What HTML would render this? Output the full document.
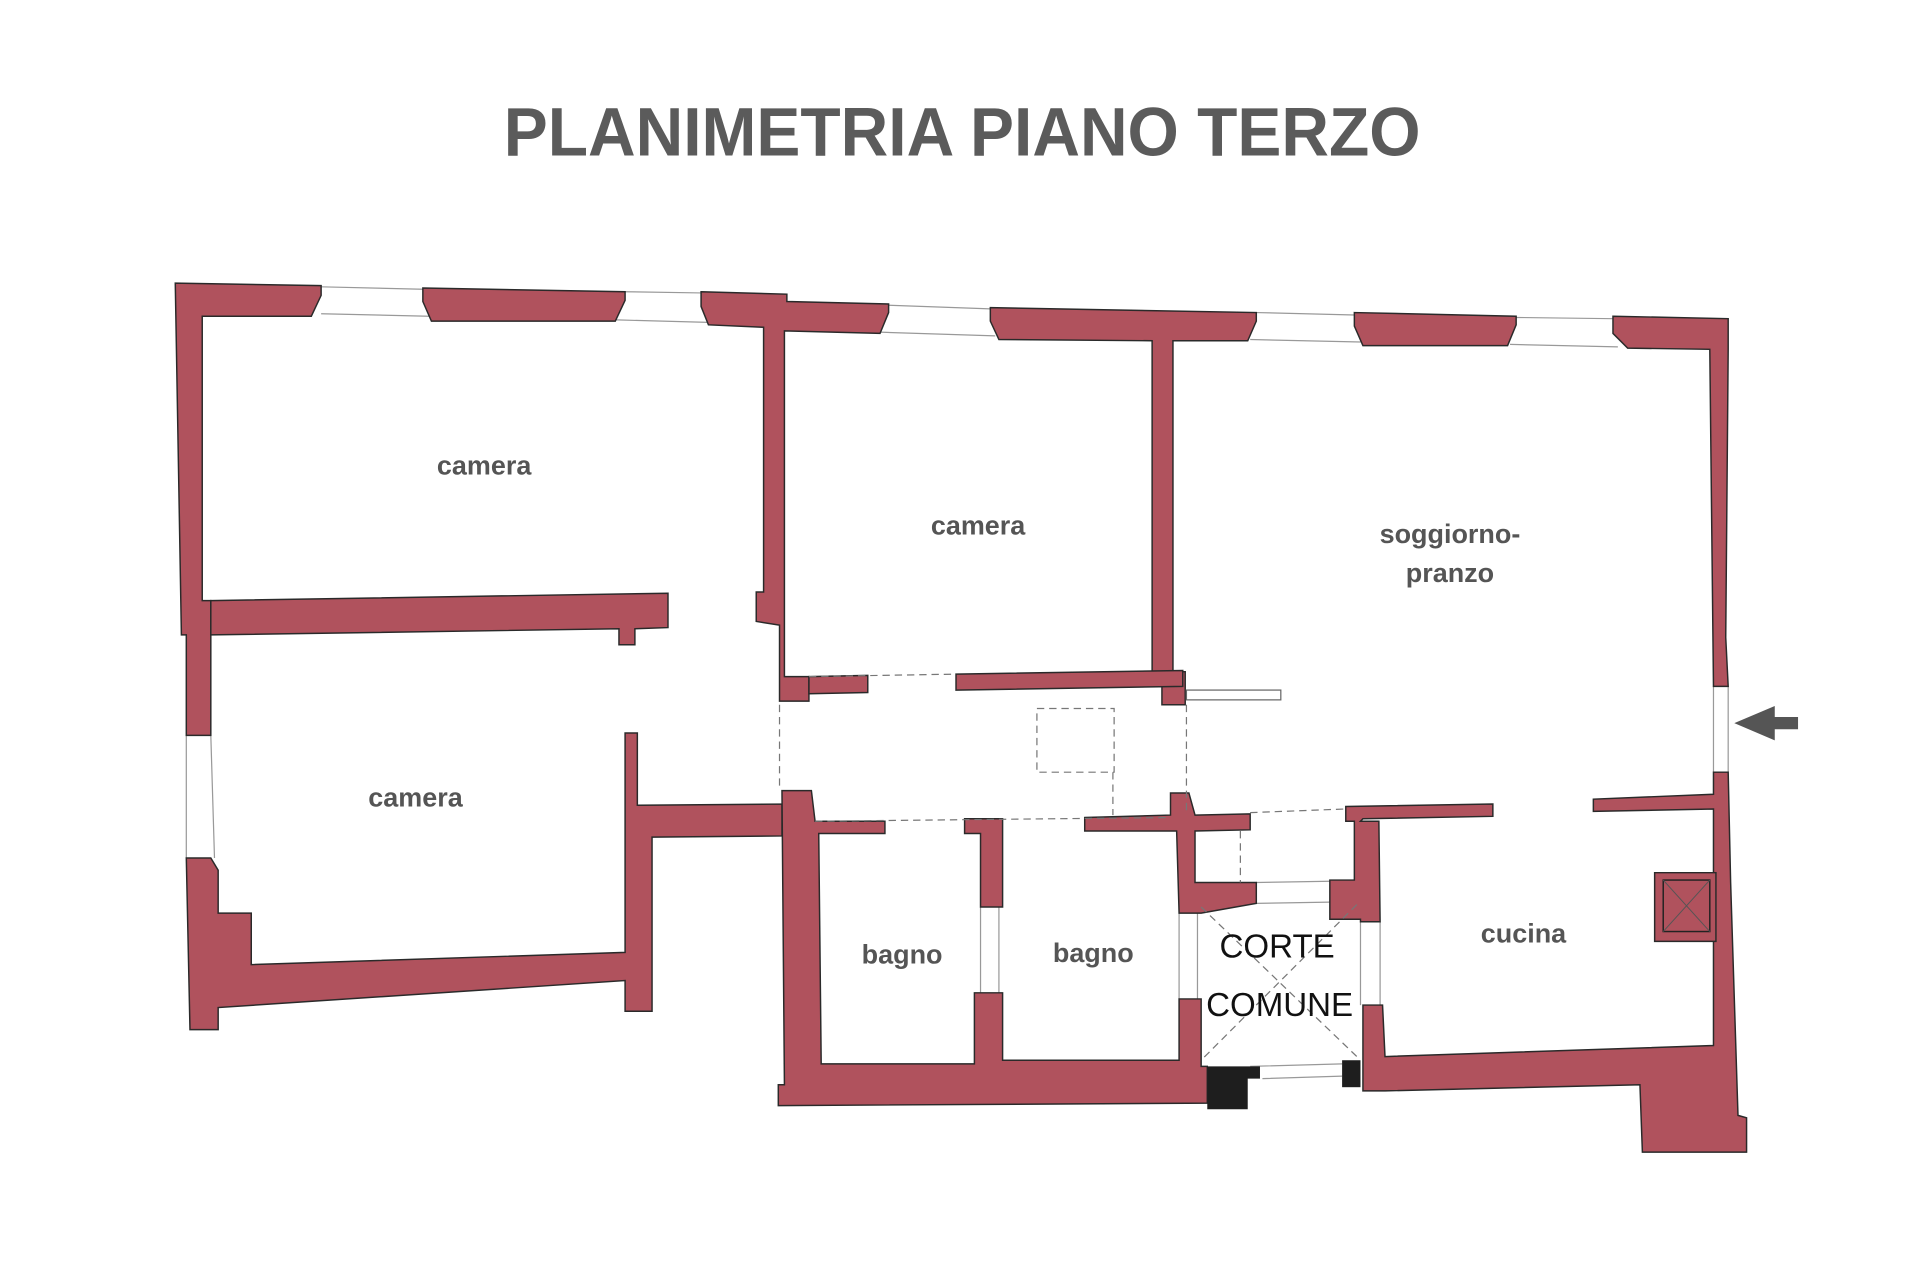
<!DOCTYPE html>
<html><head><style>html,body{margin:0;padding:0;background:#fff}svg{display:block}</style></head>
<body>
<svg width="1920" height="1280" viewBox="0 0 1566.5 1044.3" preserveAspectRatio="none" xmlns="http://www.w3.org/2000/svg">
<rect width="1570" height="1050" fill="#fff"/>
<text x="785" y="127" text-anchor="middle" font-family="'Liberation Sans Narrow','Liberation Sans',sans-serif" font-weight="bold" font-size="56" fill="#5b5b5b" textLength="748" lengthAdjust="spacingAndGlyphs">PLANIMETRIA PIANO TERZO</text>

<g fill="none" stroke="#999" stroke-width="1">
<path d="M262,234 L345,236 M262,256 L350,258 M510,238 L572,239 M503,261 L578,263 M725,249 L808,252 M718,271 L812,274 M1025,255 L1105,257 M1020,277 L1110,279 M1237,259 L1316,260 M1232,281 L1320,283"/>
<path d="M152,600 L152,700 M172,600 L175,700 M1398,560 L1398,630 M1410,560 L1410,630 M800,740 L800,810 M815,740 L815,810 M962,745 L962,815 M977,745 L977,815 M1110,752 L1110,820 M1126,752 L1126,820 M1025,720 L1085,719 M1025,737 L1085,736 M1020,870 L1095,868 M1030,880 L1095,878"/>
</g>

<g fill="#b0525d" stroke="#2a2a2a" stroke-width="1.2">
<polygon points="143,231 262,233 262,241 254,258 165,258 165,490 172,490 172,600 152,600 152,518 148,518"/>
<polygon points="345,235 510,238 510,245 502,262 352,262 345,246"/>
<polygon points="572,238 642,240 642,246 725,248 725,255 718,272 640,270 640,552 660,552 660,572 636,572 636,510 617,507 617,483 623,483 623,267 578,265 572,250"/>
<polygon points="808,251 1025,255 1025,262 1018,278 957,278 957,548 967,548 967,575 948,575 948,548 940,548 940,278 815,277 808,262"/>
<polygon points="1105,255 1237,258 1237,265 1230,282 1112,282 1105,266"/>
<polygon points="1316,258 1410,260 1410,285 1408,520 1410,560 1398,560 1395,285 1328,284 1316,272"/>
<polygon points="1398,630 1410,630 1412,720 1418,910 1425,912 1425,940 1340,940 1338,885 1130,890 1112,890 1112,820 1128,820 1130,862 1398,853 1398,660 1300,662 1300,652 1398,648"/>
<polygon points="172,490 545,484 545,512 518,513 518,526 505,526 505,513 172,518"/>
<polygon points="660,552 708,551 708,565 660,566"/>
<polygon points="780,550 965,547 965,560 780,563"/>
<polygon points="152,700 172,700 178,710 178,745 205,745 205,787 510,777 510,598 520,598 520,657 638,656 638,682 532,683 532,825 510,825 510,800 178,822 178,840 155,840"/>
<polygon points="638,645 662,645 665,670 722,670 722,680 668,680 670,868 795,868 795,810 818,810 818,865 962,865 962,815 980,815 980,870 985,870 985,900 635,902 635,885 640,885"/>
<polygon points="787,668 818,668 818,740 800,740 800,680 787,680"/>
<polygon points="885,667 955,665 955,647 970,647 975,665 1020,664 1020,677 975,678 975,720 1025,720 1025,737 980,745 962,745 960,678 885,678"/>
<polygon points="1098,658 1218,656 1218,666 1112,668 1110,670 1125,670 1126,752 1110,752 1110,750 1085,750 1085,718 1105,718 1105,670 1098,670"/>
<polygon points="1350,712 1400,712 1400,768 1350,768"/>
</g>
<g fill="none" stroke="#222" stroke-width="1.2">
<rect x="1357" y="718" width="38" height="42"/>
</g>
<g stroke="#555" stroke-width="0.8"><path d="M1357,718 L1395,760 M1395,718 L1357,760"/></g>
<g fill="#1e1e1e"><polygon points="985,870 1028,870 1028,880 1018,880 1018,905 985,905"/><rect x="1095" y="865" width="15" height="22"/></g>

<g fill="none" stroke="#777" stroke-width="1" stroke-dasharray="6,4">
<path d="M660,552 L780,550 M636,575 L636,645 M968,575 L968,665 M665,670 L955,667 M908,630 L908,665 M1012,678 L1012,720 M1020,663 L1098,660"/>
<rect x="846" y="578" width="63" height="52"/>
<path d="M980,740 L1107,862 M1107,738 L980,865"/>
</g>
<rect x="968" y="563" width="77" height="8" fill="#fff" stroke="#666" stroke-width="1"/>

<polygon points="1415,590 1448,576 1448,585 1467,585 1467,595 1448,595 1448,604" fill="#555"/>

<g font-family="'Liberation Sans',sans-serif" font-weight="bold" font-size="22" fill="#555" text-anchor="middle">
<text x="395" y="387">camera</text>
<text x="798" y="436">camera</text>
<text x="339" y="658">camera</text>
<text x="1183" y="443">soggiorno-</text>
<text x="1183" y="475">pranzo</text>
<text x="736" y="786">bagno</text>
<text x="892" y="785">bagno</text>
<text x="1243" y="769">cucina</text>
</g>
<g font-family="'Liberation Sans',sans-serif" font-size="27" fill="#111" text-anchor="middle">
<text x="1042" y="781">CORTE</text>
<text x="1044" y="829">COMUNE</text>
</g>
</svg>
</body></html>
